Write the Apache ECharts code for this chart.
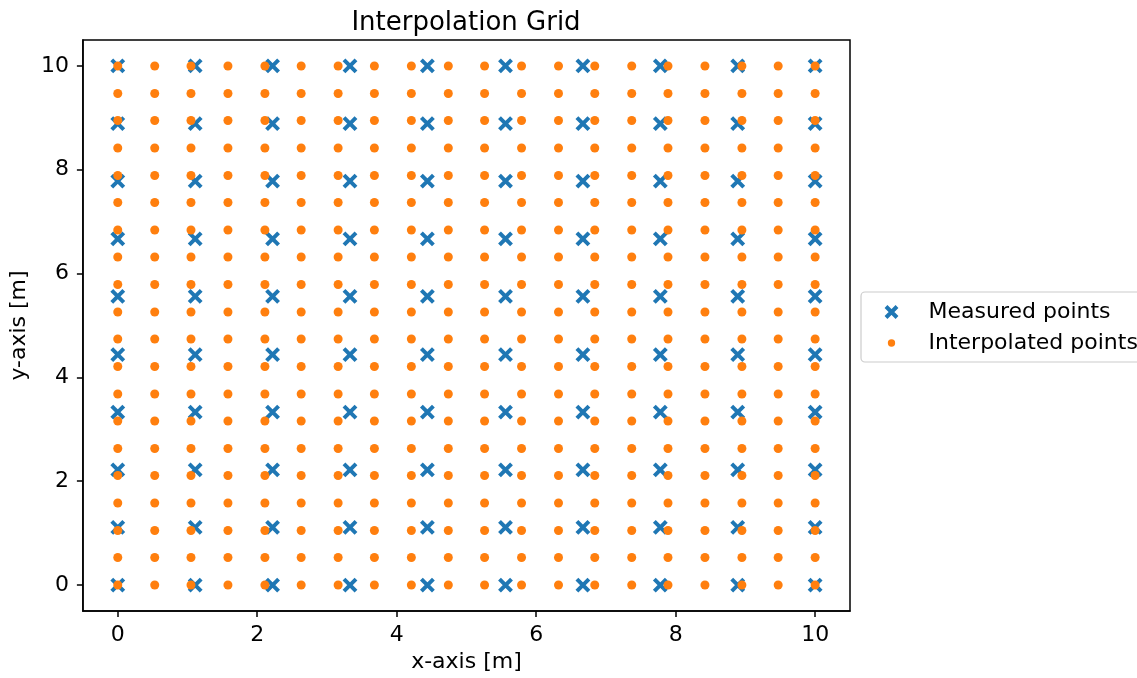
<!DOCTYPE html>
<html>
<head>
<meta charset="utf-8">
<script src="https://cdn.jsdelivr.net/npm/echarts@6/dist/echarts.min.js"></script>
<style>html,body{margin:0;padding:0;background:#fff;overflow:hidden}#c{width:1137px;height:678px}</style>
</head>
<body>
<div id="c"></div>
<script>
const measuredX = [0, 1.11, 2.22, 3.33, 4.44, 5.56, 6.67, 7.78, 8.89, 10];
const measuredY = [0, 1.11, 2.22, 3.33, 4.44, 5.56, 6.67, 7.78, 8.89, 10];
const interpX = [0, 0.53, 1.05, 1.58, 2.11, 2.63, 3.16, 3.68, 4.21, 4.74, 5.26, 5.79, 6.32, 6.84, 7.37, 7.89, 8.42, 8.95, 9.47, 10];
const interpY = [0, 0.53, 1.05, 1.58, 2.11, 2.63, 3.16, 3.68, 4.21, 4.74, 5.26, 5.79, 6.32, 6.84, 7.37, 7.89, 8.42, 8.95, 9.47, 10];
const xTicks = [0, 2, 4, 6, 8, 10];
const yTicks = [0, 2, 4, 6, 8, 10];
const seriesNames = ['Measured points', 'Interpolated points'];

function grid(xs, ys) {
  const out = [];
  for (const y of ys) for (const x of xs) out.push([x, y]);
  return out;
}

const FONT = 'DejaVu Sans';
const BLUE = '#1f77b4', ORANGE = '#ff7f0e';
const X_PATH = 'path://M0,0L10,10M0,10L10,0';
const chart = echarts.init(document.getElementById('c'), null, {renderer: 'canvas'});
const axisCommon = {
  min: -0.5, max: 10.5,
  axisLine: {show: true, onZero: false, lineStyle: {color: '#000', width: 1.5}},
  axisTick: {show: true, inside: false, length: 6, lineStyle: {color: '#000', width: 1.5}},
  splitLine: {show: false},
  nameLocation: 'middle',
  nameTextStyle: {fontFamily: FONT, fontSize: 22, color: '#000'}
};
chart.setOption({
  animation: false,
  backgroundColor: '#fff',
  title: {
    text: 'Interpolation Grid', left: 461, top: 5, textAlign: 'center',
    textStyle: {fontFamily: FONT, fontSize: 26, fontWeight: 'normal', color: '#000'}
  },
  grid: {left: 80, top: 40, width: 770, height: 572, show: true, borderColor: '#000', borderWidth: 1.5, backgroundColor: 'transparent'},
  legend: {
    orient: 'vertical', left: 861, top: 292,
    data: [
      {name: seriesNames[0], icon: X_PATH, itemStyle: {color: BLUE, borderColor: BLUE, borderWidth: 4}},
      {name: seriesNames[1], icon: 'path://M0,0M12,12M6,2A4,4,0,1,1,6,10A4,4,0,1,1,6,2Z', itemStyle: {color: ORANGE, borderWidth: 0}}
    ],
    itemWidth: 64, itemHeight: 11, itemGap: 9,
    padding: [9, 10, 8, 23],
    borderColor: '#cccccc', borderWidth: 1.2, borderRadius: 4,
    textStyle: {fontFamily: FONT, fontSize: 22, color: '#000'}
  },
  xAxis: Object.assign({}, axisCommon, {
    type: 'value', name: 'x-axis [m]', nameGap: 40,
    axisTick: Object.assign({}, axisCommon.axisTick, {customValues: xTicks}),
    axisLabel: {customValues: xTicks, margin: 13, fontFamily: FONT, fontSize: 22, color: '#000'}
  }),
  yAxis: Object.assign({}, axisCommon, {
    type: 'value', name: 'y-axis [m]', nameGap: 50,
    axisTick: Object.assign({}, axisCommon.axisTick, {customValues: yTicks}),
    axisLabel: {customValues: yTicks, margin: 14, fontFamily: FONT, fontSize: 22, color: '#000'}
  }),
  series: [
    {
      name: seriesNames[0], type: 'scatter',
      data: grid(measuredX, measuredY),
      symbol: X_PATH,
      symbolSize: 12,
      itemStyle: {color: BLUE, borderColor: BLUE, borderWidth: 4, opacity: 1}
    },
    {
      name: seriesNames[1], type: 'scatter',
      data: grid(interpX, interpY),
      symbol: 'circle',
      symbolSize: 9,
      itemStyle: {color: ORANGE, opacity: 1}
    }
  ]
});
</script>
</body>
</html>
